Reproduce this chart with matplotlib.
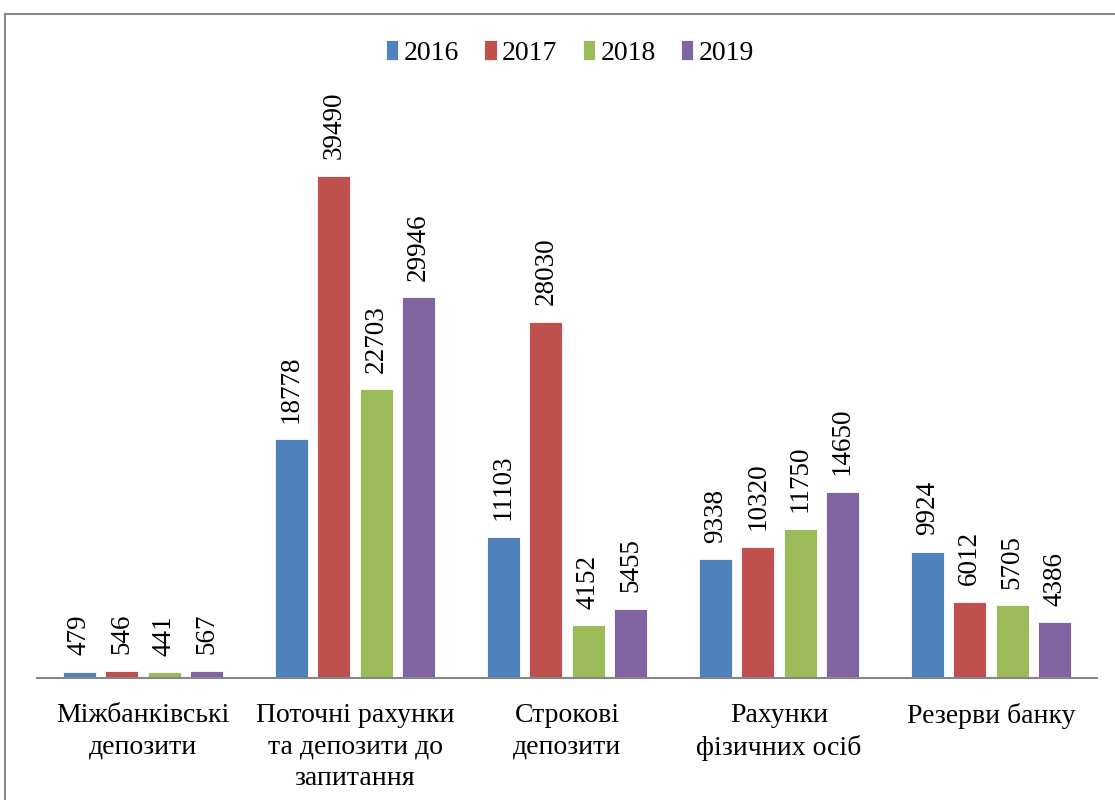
import matplotlib.pyplot as plt
import numpy as np
from matplotlib.patches import Rectangle

categories = ["Міжбанківські\nдепозити", "Поточні рахунки\nта депозити до\nзапитання",
              "Строкові\nдепозити", "Рахунки\nфізичних осіб", "Резерви банку"]
years = ["2016", "2017", "2018", "2019"]
values = {
    "2016": [479, 18778, 11103, 9338, 9924],
    "2017": [546, 39490, 28030, 10320, 6012],
    "2018": [441, 22703, 4152, 11750, 5705],
    "2019": [567, 29946, 5455, 14650, 4386],
}
colors = ["#4F81BD", "#C0504D", "#9BBB59", "#8064A2"]

plt.rcParams["font.family"] = ["Liberation Serif", "DejaVu Serif"]

W, H = 1115, 800
fig = plt.figure(figsize=(W / 100, H / 100), dpi=100)
ax = fig.add_axes([37 / W, 1 - 678 / H, 1060 / W, 572 / H])

# outer chart frame
fig.patches.append(Rectangle((5 / W, -0.1), 2, (1 - 14 / H) + 0.1, transform=fig.transFigure,
                             fill=False, edgecolor="#8a8a8a", linewidth=1.5))

x = np.arange(len(categories))
bw = 0.157
step = 0.2
for i, y in enumerate(years):
    pos = x + (i - 1.5) * step
    bars = ax.bar(pos, values[y], width=bw, color=colors[i], edgecolor="white",
                  linewidth=0.6, label=y, zorder=2)
    for b, v in zip(bars, values[y]):
        ax.annotate(str(v), (b.get_x() + b.get_width() / 2, v), xytext=(0, 12),
                    textcoords="offset points", rotation=90, ha="center", va="bottom",
                    fontsize=19.5)

ax.set_xlim(-0.5, 4.5)
ax.set_ylim(0, 45000)
ax.set_xticks(x)
ax.set_xticklabels(categories, fontsize=20, linespacing=1.35)
ax.tick_params(axis="x", length=0, pad=18)
ax.set_yticks([])
for s in ["top", "right", "left"]:
    ax.spines[s].set_visible(False)
ax.spines["bottom"].set_color("#868686")
ax.spines["bottom"].set_linewidth(1.5)

leg = fig.legend(loc="center", bbox_to_anchor=(570 / W, 1 - 53 / H), ncol=4, frameon=False,
                 fontsize=20, handlelength=0.45, handleheight=0.75, handletextpad=0.2,
                 columnspacing=0.9)

fig.savefig("out.png", dpi=100)
